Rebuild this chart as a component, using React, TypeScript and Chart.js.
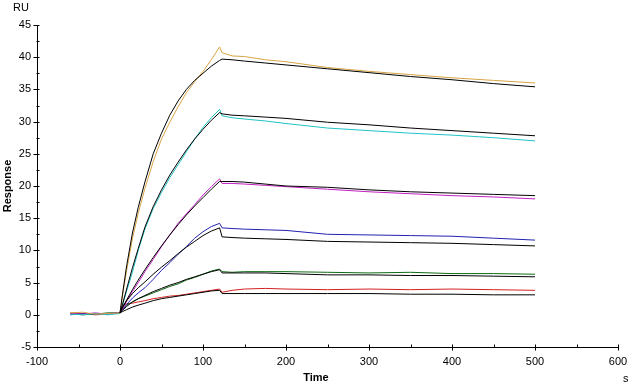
import React, { useEffect, useRef } from 'react';
import { Chart, registerables } from 'chart.js';

Chart.register(...registerables);

// Time points (s)
const TIME = [-60, -45, -30, -15, 0, 3, 8, 15, 22, 30, 40, 50, 60, 70, 80, 90, 100, 110, 120, 123, 135, 150, 175, 200, 250, 300, 350, 400, 450, 500];

// Measured responses (RU)
const GOLD = [0.3, 0.4, 0.1, 0.2, 0.3, 2.9, 6.9, 11.8, 15.8, 19.6, 23.8, 27.3, 29.9, 32.3, 34.5, 36.2, 37.8, 39.6, 41.6, 40.7, 40.2, 40.1, 39.6, 39.3, 38.4, 37.8, 37.3, 36.8, 36.4, 36.0];
const CYAN = [0.1, 0.0, 0.2, 0.0, 0.2, 1.5, 3.7, 6.6, 10.0, 13.3, 16.5, 19.0, 21.3, 23.3, 25.3, 27.3, 29.1, 30.6, 31.9, 30.9, 30.6, 30.4, 30.1, 29.7, 29.0, 28.6, 28.2, 27.9, 27.5, 27.0];
const MAGENTA = [0.2, 0.1, 0.3, 0.1, 0.3, 0.9, 2.1, 3.6, 5.0, 6.7, 8.6, 10.6, 12.4, 14.2, 15.7, 17.1, 18.6, 19.9, 21.1, 20.4, 20.4, 20.3, 20.1, 19.9, 19.5, 19.1, 18.8, 18.5, 18.3, 18.0];
const BLUE = [0.0, 0.2, 0.1, 0.2, 0.3, 0.8, 1.6, 2.6, 3.4, 4.2, 5.5, 6.9, 8.1, 9.4, 10.6, 11.9, 12.9, 13.7, 14.2, 13.5, 13.4, 13.3, 13.2, 13.1, 12.5, 12.4, 12.3, 12.2, 11.9, 11.6];
const GREEN = [0.2, 0.0, 0.1, 0.3, 0.3, 0.9, 1.5, 2.0, 2.5, 2.9, 3.4, 3.9, 4.4, 4.8, 5.4, 5.8, 6.3, 6.8, 7.1, 6.7, 6.6, 6.7, 6.7, 6.7, 6.6, 6.5, 6.6, 6.4, 6.4, 6.3];
const RED = [0.3, 0.2, 0.0, 0.1, 0.3, 1.5, 1.7, 1.8, 2.0, 2.2, 2.5, 2.7, 2.9, 3.0, 3.2, 3.4, 3.6, 3.8, 4.0, 3.5, 3.8, 4.0, 4.1, 4.0, 3.9, 4.0, 3.9, 4.0, 3.9, 3.8];

// Fitted curves (RU), no baseline part
const GOLD_FIT = [null, null, null, null, 0.3, 3.2, 7.6, 12.7, 16.7, 20.6, 25.0, 28.2, 31.0, 33.2, 35.0, 36.4, 37.5, 38.6, 39.5, 39.7, 39.6, 39.4, 39.1, 38.8, 38.2, 37.6, 37.0, 36.5, 35.9, 35.4];
const CYAN_FIT = [null, null, null, null, 0.3, 1.6, 4.0, 7.3, 10.3, 13.6, 16.8, 19.4, 21.7, 23.7, 25.6, 27.3, 28.8, 30.2, 31.4, 31.2, 31.0, 30.9, 30.7, 30.5, 29.9, 29.5, 29.0, 28.6, 28.2, 27.8];
const MAGENTA_FIT = [null, null, null, null, 0.3, 1.1, 2.3, 3.9, 5.4, 7.0, 8.9, 10.7, 12.4, 14.0, 15.5, 16.9, 18.2, 19.5, 20.7, 20.7, 20.7, 20.6, 20.3, 20.0, 19.8, 19.4, 19.1, 18.9, 18.7, 18.5];
const BLUE_FIT = [null, null, null, null, 0.3, 1.2, 2.2, 3.3, 4.2, 5.1, 6.3, 7.4, 8.4, 9.5, 10.5, 11.4, 12.3, 13.0, 13.5, 12.1, 12.0, 11.9, 11.8, 11.7, 11.4, 11.3, 11.2, 11.1, 10.9, 10.7];
const GREEN_FIT = [null, null, null, null, 0.3, 0.7, 1.3, 2.0, 2.5, 3.0, 3.6, 4.1, 4.6, 5.0, 5.5, 5.9, 6.3, 6.7, 7.0, 6.5, 6.5, 6.5, 6.5, 6.4, 6.2, 6.2, 6.1, 6.1, 6.0, 5.9];
const RED_FIT = [null, null, null, null, 0.3, 0.5, 0.8, 1.2, 1.5, 1.8, 2.2, 2.5, 2.7, 2.9, 3.1, 3.3, 3.5, 3.7, 3.8, 3.3, 3.3, 3.3, 3.3, 3.3, 3.3, 3.3, 3.2, 3.2, 3.1, 3.1];

const SERIES = [
  { name: 'S1', values: GOLD, fit: GOLD_FIT, color: '#D9A443' },
  { name: 'S2', values: CYAN, fit: CYAN_FIT, color: '#1FC3C6' },
  { name: 'S3', values: MAGENTA, fit: MAGENTA_FIT, color: '#C21FC2' },
  { name: 'S4', values: BLUE, fit: BLUE_FIT, color: '#2222B0' },
  { name: 'S5', values: GREEN, fit: GREEN_FIT, color: '#0E6A12' },
  { name: 'S6', values: RED, fit: RED_FIT, color: '#D42020' },
];

const X_MIN = -100, X_MAX = 600, X_STEP = 100;
const Y_MIN = -5, Y_MAX = 45, Y_STEP = 5;

const FONT = 'Liberation Sans, Arial, sans-serif';

const toPoints = (arr: (number | null)[]) => TIME.map((t, i) => ({ x: t, y: arr[i] }));

const decorPlugin = {
  id: 'decor',
  afterDraw(chart: any) {
    const { ctx, scales } = chart;
    const xs = scales.x, ys = scales.y;
    ctx.save();
    ctx.strokeStyle = '#000';
    ctx.lineWidth = 1;
    const axisY = Math.round(xs.top) + 0.5;
    const axisX = Math.round(ys.right) - 0.5;
    ctx.beginPath();
    for (let v = X_MIN; v <= X_MAX; v += X_STEP / 2) {
      const px = Math.round(xs.getPixelForValue(v)) + 0.5;
      const major = (v - X_MIN) % X_STEP === 0;
      ctx.moveTo(px, axisY - 3);
      ctx.lineTo(px, major ? axisY + 3 : axisY);
    }
    for (let v = Y_MIN; v <= Y_MAX; v += Y_STEP / 2) {
      const py = Math.round(ys.getPixelForValue(v)) + 0.5;
      const major = (v - Y_MIN) % Y_STEP === 0;
      ctx.moveTo(major ? axisX - 3 : axisX, py);
      ctx.lineTo(axisX + 3, py);
    }
    ctx.stroke();

    ctx.fillStyle = '#000';
    ctx.textBaseline = 'middle';
    ctx.font = `11px ${FONT}`;
    ctx.textAlign = 'left';
    ctx.fillText('RU', 13, 8);
    ctx.fillText('s', 623, 379);
    ctx.font = `bold 11px ${FONT}`;
    ctx.textAlign = 'center';
    ctx.fillText('Time', 316, 378);
    ctx.translate(8, 186);
    ctx.rotate(-Math.PI / 2);
    ctx.fillText('Response', 0, 0);
    ctx.restore();
  },
};

export default function App() {
  const ref = useRef<HTMLCanvasElement>(null);
  useEffect(() => {
    const canvas = ref.current;
    if (!canvas) return;
    const fitSets = SERIES.map((s) => ({
      label: s.name + ' fit',
      data: toPoints(s.fit),
      borderColor: '#000000',
      borderWidth: 1,
      pointRadius: 0,
      tension: 0,
      fill: false,
    }));
    const dataSets = SERIES.map((s) => ({
      label: s.name,
      data: toPoints(s.values),
      borderColor: s.color,
      borderWidth: 1,
      pointRadius: 0,
      tension: 0,
      fill: false,
    }));
    const chart = new Chart(canvas, {
      type: 'line',
      data: { datasets: [...fitSets, ...dataSets] as any },
      options: {
        animation: false,
        responsive: false,
        devicePixelRatio: 1,
        layout: { padding: { left: 0, top: 25, right: 12, bottom: 0 } },
        plugins: { legend: { display: false }, tooltip: { enabled: false } },
        scales: {
          x: {
            type: 'linear',
            min: X_MIN,
            max: X_MAX,
            grid: { display: false, drawTicks: false },
            border: { display: true, color: '#000', width: 1 },
            ticks: { stepSize: X_STEP, padding: 8, color: '#000', font: { family: FONT, size: 11 }, maxRotation: 0 },
            afterFit: (s: any) => { s.height = 39; s.paddingLeft = 0; s.paddingRight = 0; },
          },
          y: {
            type: 'linear',
            min: Y_MIN,
            max: Y_MAX,
            grid: { display: false, drawTicks: false },
            border: { display: true, color: '#000', width: 1 },
            ticks: { stepSize: Y_STEP, padding: 6, color: '#000', font: { family: FONT, size: 11 } },
            afterFit: (s: any) => { s.width = 37; s.paddingTop = 0; s.paddingBottom = 0; },
          },
        },
      },
      plugins: [decorPlugin],
    });
    return () => chart.destroy();
  }, []);
  return (
    <div style={{ position: 'absolute', left: 0, top: 0, width: 630, height: 386, background: '#fff' }}>
      <canvas ref={ref} width={630} height={386} style={{ display: 'block' }} />
    </div>
  );
}
